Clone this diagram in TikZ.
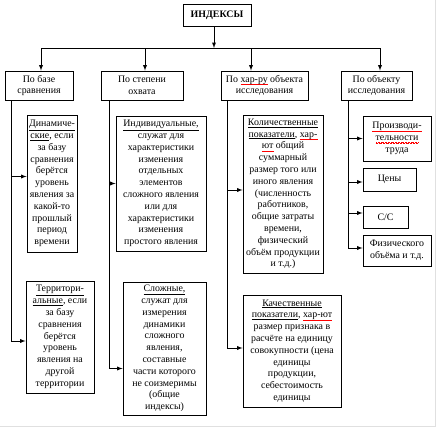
\documentclass[tikz,border=0pt]{standalone}
\usepackage{fontspec}
\setmainfont{Liberation Serif}
\usetikzlibrary{positioning}
% red spell-check squiggle under a word
\newcommand{\spellwave}[1]{\leavevmode\setbox0=\hbox{#1}%
  \rlap{\hbox to \wd0{\color{red}\xleaders\hbox{\rule[-2.7pt]{0.7pt}{0.45pt}\rule[-2.1pt]{0.7pt}{0.45pt}}\hfil}}\box0\relax}
\newcommand{\ul}[1]{\underline{#1}}
\tikzset{
  box/.style={draw, line width=0.9pt, align=center, inner sep=0pt,
    font=\fontsize{9.9}{11.8}\selectfont},
  link/.style={line width=0.9pt},
  >=latex
}
\begin{document}
\begin{tikzpicture}[x=1pt,y=-1pt]
  \useasboundingbox (0,0) rectangle (437,429);
  %--- page edge
  \draw[black!12] (0,426) -- (435,426) -- (435,0);
  %--- Root
  \node[box, minimum width=68pt, minimum height=22pt] (root) at (217,15) {\textbf{ИНДЕКСЫ}};
  \coordinate (bus) at (214,48);
  %--- Groups
  \node[box, minimum width=68pt, minimum height=29pt] (base) at (39,85.5) {По базе\\сравнения};
  \node[box, minimum width=82pt, minimum height=29pt] (cover) at (142,85.5) {По степени\\охвата};
  \node[box, minimum width=87pt, minimum height=29pt] (kind) at (264.5,85.5) {По \spellwave{хар-ру} объекта\\исследования};
  \node[box, minimum width=71pt, minimum height=29pt] (object) at (376.5,85.5) {По объекту\\исследования};
  \draw[link, ->] (root.south -| bus) -- (bus);
  \draw[link] ([xshift=2pt]base.north |- bus) -- ([xshift=3.5pt]object.north |- bus);
  \draw[link, ->] ([xshift=2pt]base.north |- bus) -- ([xshift=2pt]base.north);
  \draw[link, ->] ([xshift=3pt]cover.north |- bus) -- ([xshift=3pt]cover.north);
  \draw[link, ->] ([xshift=-13.5pt]kind.north |- bus) -- ([xshift=-13.5pt]kind.north);
  \draw[link, ->] ([xshift=3.5pt]object.north |- bus) -- ([xshift=3.5pt]object.north);
  %--- By base
  \node[box, minimum width=50pt, minimum height=137pt] (dyn) at (52,183.5)
    {\ul{Динамиче-}\\\ul{ские}, если\\за базу\\сравнения\\берётся\\уровень\\явления за\\какой-то\\прошлый\\период\\времени};
  \node[box, minimum width=68pt, minimum height=112pt] (terr) at (60,337)
    {\ul{Территори-}\\\ul{альные}, если\\за базу\\сравнения\\берётся\\уровень\\явления на\\другой\\территории};
  \draw[link, ->] ([xshift=7pt]base.south west) |- ([yshift=7pt]dyn.west);
  \draw[link, ->] ([xshift=7pt]base.south west) |- ([yshift=-4pt]terr.west);
  %--- By coverage
  \node[box, minimum width=90pt, minimum height=135pt] (indiv) at (161,183.5)
    {\ul{Индивидуальные,}\\служат для\\характеристики\\изменения\\отдельных\\элементов\\сложного явления\\или для\\характеристики\\изменения\\простого явления};
  \node[box, minimum width=83pt, minimum height=133pt] (compl) at (164.5,348.5)
    {\ul{Сложные,}\\служат для\\измерения\\динамики\\сложного\\явления,\\составные\\части которого\\не соизмеримы\\(общие\\индексы)};
  \draw[link, ->] ([xshift=9pt]cover.south west) |- (indiv.west);
  \draw[link, ->] ([xshift=9pt]cover.south west) |- ([yshift=-20pt]compl.west);
  %--- By kind of object
  \node[box, minimum width=80pt, minimum height=158pt] (quant) at (283,194)
    {\ul{Количественные}\\\ul{показатели}, \spellwave{хар-}\\\spellwave{ют} общий\\суммарный\\размер того или\\иного явления\\(численность\\работников,\\общие затраты\\времени,\\физический\\объём продукции\\и т.д.)};
  \node[box, minimum width=98pt, minimum height=112pt] (qual) at (292,351)
    {\ul{Качественные}\\\ul{показатели}, \spellwave{хар-ют}\\размер признака в\\расчёте на единицу\\совокупности (цена\\единицы\\продукции,\\себестоимость\\единицы};
  \draw[link, ->] ([xshift=7pt]kind.south west) |- ([yshift=4pt]quant.west);
  \draw[link, ->] ([xshift=7pt]kind.south west) |- ([yshift=3pt]qual.west);
  %--- By object
  \node[box, minimum width=68pt, minimum height=45pt] (prod) at (397,138.5)
    {\spellwave{Производи-}\\\spellwave{тельности}\\труда};
  \node[box, minimum width=53pt, minimum height=23pt] (price) at (389.5,179.5) {Цены};
  \node[box, minimum width=45pt, minimum height=22pt] (cost) at (385.5,217) {С/С};
  \node[box, minimum width=68pt, minimum height=31pt] (phys) at (397,250.5) {Физического\\объёма и т.д.};
  \draw[link, ->] ([xshift=8pt]object.south west) |- (prod.west);
  \draw[link, ->] ([xshift=8pt]object.south west) |- ([yshift=-2.5pt]price.west);
  \draw[link, ->] ([xshift=8pt]object.south west) |- ([yshift=4pt]cost.west);
  \draw[link, ->] ([xshift=8pt]object.south west) |- ([yshift=2.5pt]phys.west);
\end{tikzpicture}
\end{document}
